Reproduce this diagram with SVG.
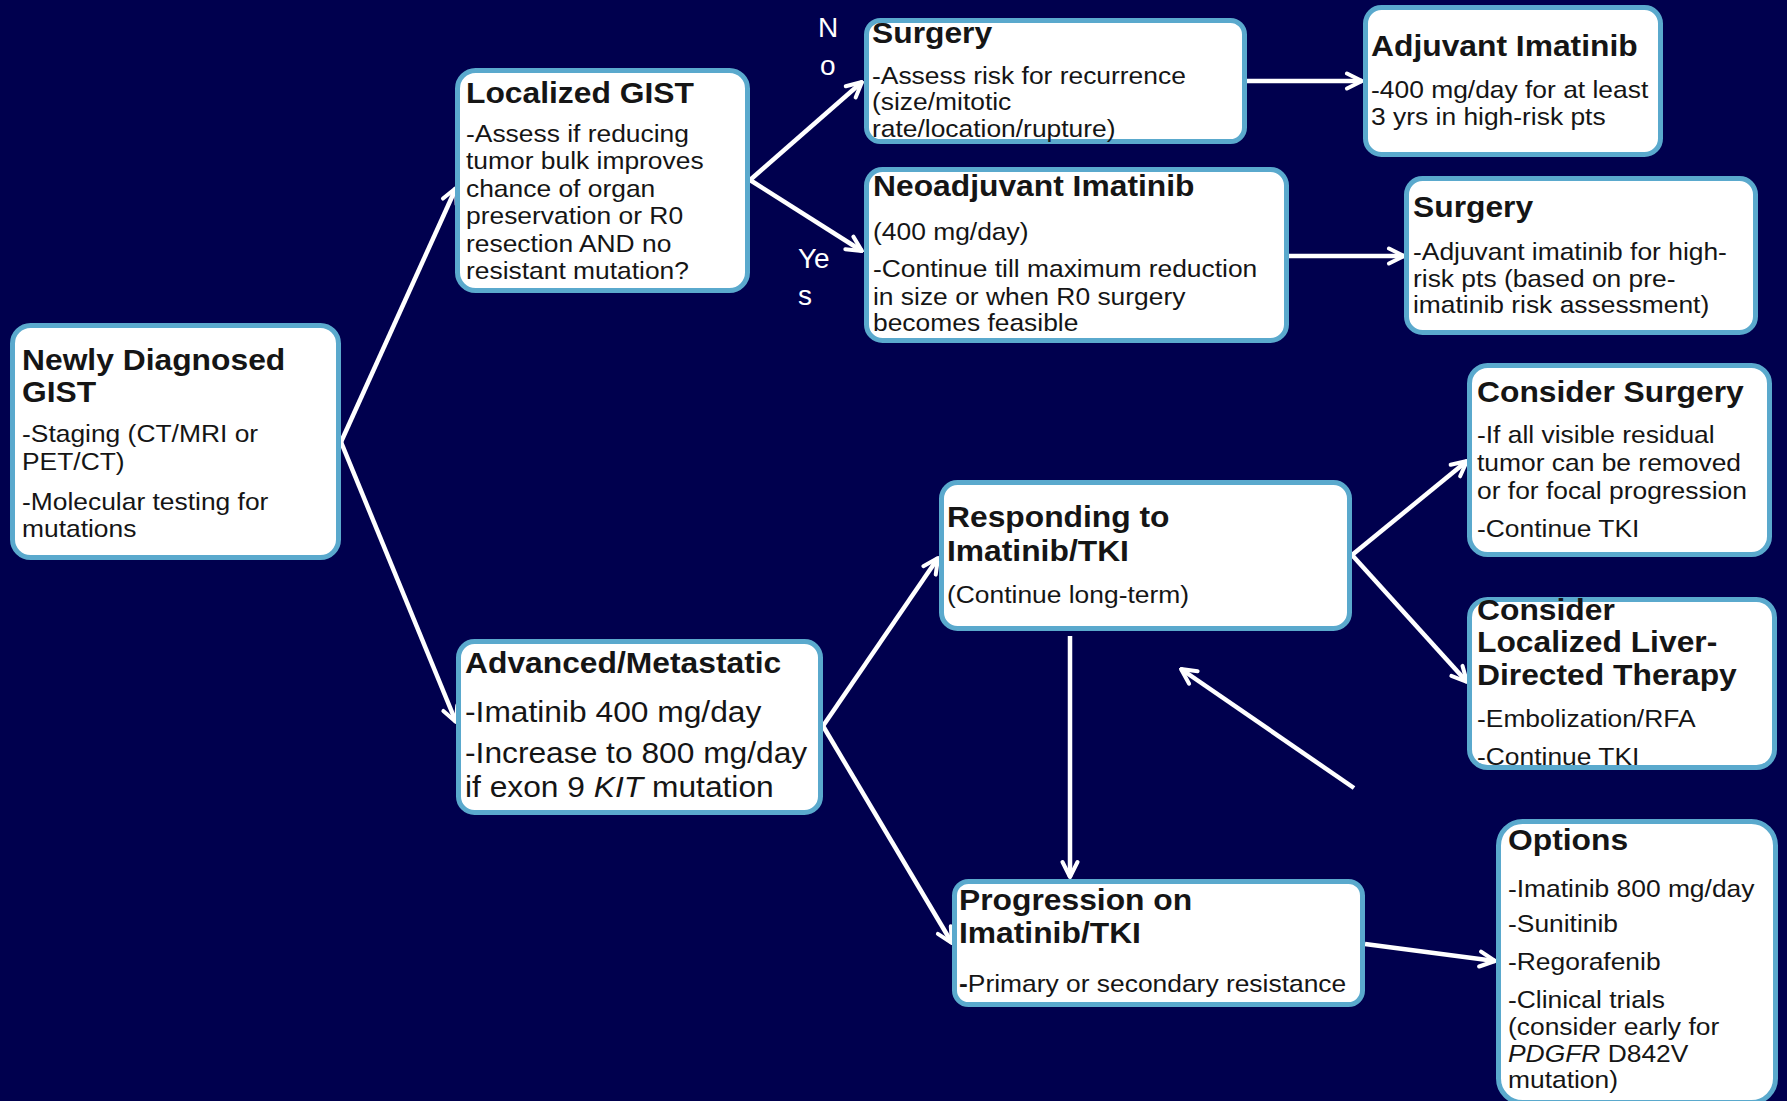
<svg xmlns="http://www.w3.org/2000/svg" width="1787" height="1101" viewBox="0 0 1787 1101">
<style>
.box{fill:#ffffff;stroke:#5aa9cd;stroke-width:5}
.t{font-family:"Liberation Sans",Arial,sans-serif;font-weight:bold;font-size:30px;fill:#151515}
.b{font-family:"Liberation Sans",Arial,sans-serif;font-size:24px;fill:#151515}
.bl{font-family:"Liberation Sans",Arial,sans-serif;font-size:29px;fill:#151515}
.yn{font-family:"Liberation Sans",Arial,sans-serif;font-size:28px;fill:#ffffff}
.c{stroke:#ffffff;stroke-width:4.5;fill:none;marker-end:url(#ah)}
</style>
<defs>
<marker id="ah" viewBox="0 0 20 20" markerWidth="20" markerHeight="20" refX="18" refY="10" orient="auto" markerUnits="userSpaceOnUse">
<path d="M3,2.5 L18,10 L3,17.5" fill="none" stroke="#ffffff" stroke-width="4" stroke-linecap="round" stroke-linejoin="round"/>
</marker>
</defs>
<rect x="0" y="0" width="1787" height="1101" fill="#00004e"/>

<g id="connectors">
<line class="c" x1="341" y1="442" x2="456" y2="188"/>
<line class="c" x1="341" y1="442" x2="456" y2="722"/>
<line class="c" x1="750" y1="180" x2="862" y2="82"/>
<line class="c" x1="750" y1="180" x2="862" y2="251"/>
<line class="c" x1="1247" y1="81" x2="1362" y2="81"/>
<line class="c" x1="1289" y1="256" x2="1404" y2="256"/>
<line class="c" x1="823" y1="726" x2="938" y2="558"/>
<line class="c" x1="823" y1="726" x2="952" y2="943"/>
<line class="c" x1="1352" y1="555" x2="1467" y2="461"/>
<line class="c" x1="1352" y1="555" x2="1467" y2="682"/>
<line class="c" x1="1070" y1="636" x2="1070" y2="877"/>
<line class="c" x1="1354" y1="788" x2="1181" y2="669"/>
<line class="c" x1="1365" y1="944" x2="1495" y2="961"/>
</g>

<g id="labels">
<text class="yn" x="818" y="37">N</text>
<text class="yn" x="820" y="75">o</text>
<text class="yn" x="798" y="268">Ye</text>
<text class="yn" x="798" y="305">s</text>
</g>

<g id="newly">
<rect class="box" x="12.5" y="325.5" width="326" height="232" rx="18"/>
<text class="t" transform="translate(22,370) scale(1.06,1)"><tspan x="0" y="0">Newly Diagnosed</tspan><tspan x="0" y="32">GIST</tspan></text>
<text class="b" transform="translate(22,442) scale(1.1,1)"><tspan x="0" y="0">-Staging (CT/MRI or</tspan><tspan x="0" y="28">PET/CT)</tspan><tspan x="0" y="68">-Molecular testing for</tspan><tspan x="0" y="95">mutations</tspan></text>
</g>

<g id="localized">
<rect class="box" x="457.5" y="70.5" width="290" height="220" rx="18"/>
<text class="t" transform="translate(466,103) scale(1.06,1)">Localized GIST</text>
<text class="b" transform="translate(466,142) scale(1.1,1)"><tspan x="0" y="0">-Assess if reducing</tspan><tspan x="0" y="27.5">tumor bulk improves</tspan><tspan x="0" y="55">chance of organ</tspan><tspan x="0" y="82.5">preservation or R0</tspan><tspan x="0" y="110">resection AND no</tspan><tspan x="0" y="137.5">resistant mutation?</tspan></text>
</g>

<g id="surgery1">
<rect class="box" x="866.5" y="20.5" width="378" height="121" rx="14"/>
<text class="t" transform="translate(872,43) scale(1.06,1)">Surgery</text>
<text class="b" transform="translate(872,84) scale(1.1,1)"><tspan x="0" y="0">-Assess risk for recurrence</tspan><tspan x="0" y="26.5">(size/mitotic</tspan><tspan x="0" y="53">rate/location/rupture)</tspan></text>
</g>

<g id="adjuvant">
<rect class="box" x="1365.5" y="7.5" width="295" height="147" rx="16"/>
<text class="t" transform="translate(1371,56) scale(1.06,1)">Adjuvant Imatinib</text>
<text class="b" transform="translate(1371,98) scale(1.1,1)"><tspan x="0" y="0">-400 mg/day for at least</tspan><tspan x="0" y="27">3 yrs in high-risk pts</tspan></text>
</g>

<g id="neoadjuvant">
<rect class="box" x="866.5" y="169.5" width="420" height="171" rx="16"/>
<text class="t" transform="translate(873,196) scale(1.06,1)">Neoadjuvant Imatinib</text>
<text class="b" transform="translate(873,240) scale(1.1,1)"><tspan x="0" y="0">(400 mg/day)</tspan><tspan x="0" y="37">-Continue till maximum reduction</tspan><tspan x="0" y="65">in size or when R0 surgery</tspan><tspan x="0" y="91">becomes feasible</tspan></text>
</g>

<g id="surgery2">
<rect class="box" x="1406.5" y="178.5" width="349" height="154" rx="16"/>
<text class="t" transform="translate(1413,217) scale(1.06,1)">Surgery</text>
<text class="b" transform="translate(1413,260) scale(1.1,1)"><tspan x="0" y="0">-Adjuvant imatinib for high-</tspan><tspan x="0" y="27">risk pts (based on pre-</tspan><tspan x="0" y="53">imatinib risk assessment)</tspan></text>
</g>

<g id="consider-surgery">
<rect class="box" x="1469.5" y="365.5" width="300" height="189" rx="18"/>
<text class="t" transform="translate(1477,402) scale(1.06,1)">Consider Surgery</text>
<text class="b" transform="translate(1477,443) scale(1.1,1)"><tspan x="0" y="0">-If all visible residual</tspan><tspan x="0" y="28">tumor can be removed</tspan><tspan x="0" y="56">or for focal progression</tspan><tspan x="0" y="94">-Continue TKI</tspan></text>
</g>

<g id="liver">
<rect class="box" x="1469.5" y="599.5" width="305" height="168" rx="18"/>
<text class="t" transform="translate(1477,620) scale(1.06,1)"><tspan x="0" y="0">Consider</tspan><tspan x="0" y="32">Localized Liver-</tspan><tspan x="0" y="65">Directed Therapy</tspan></text>
<text class="b" transform="translate(1477,727) scale(1.1,1)"><tspan x="0" y="0">-Embolization/RFA</tspan><tspan x="0" y="38">-Continue TKI</tspan></text>
</g>

<g id="advanced">
<rect class="box" x="458.5" y="641.5" width="362" height="171" rx="16"/>
<text class="t" transform="translate(465,673) scale(1.06,1)">Advanced/Metastatic</text>
<text class="bl" transform="translate(465,722) scale(1.095,1)"><tspan x="0" y="0">-Imatinib 400 mg/day</tspan><tspan x="0" y="41">-Increase to 800 mg/day</tspan><tspan x="0" y="75">if exon 9 <tspan font-style="italic">KIT</tspan> mutation</tspan></text>
</g>

<g id="responding">
<rect class="box" x="941.5" y="482.5" width="408" height="146" rx="16"/>
<text class="t" transform="translate(947,527) scale(1.06,1)"><tspan x="0" y="0">Responding to</tspan><tspan x="0" y="34">Imatinib/TKI</tspan></text>
<text class="b" transform="translate(947,603) scale(1.1,1)">(Continue long-term)</text>
</g>

<g id="progression">
<rect class="box" x="954.5" y="881.5" width="408" height="123" rx="14"/>
<text class="t" transform="translate(959,910) scale(1.06,1)"><tspan x="0" y="0">Progression on</tspan><tspan x="0" y="33">Imatinib/TKI</tspan></text>
<text class="b" transform="translate(959,992) scale(1.1,1)"><tspan font-weight="bold">-</tspan>Primary or secondary resistance</text>
</g>

<g id="options">
<rect class="box" x="1498.5" y="821.5" width="277" height="281" rx="24"/>
<text class="t" transform="translate(1508,850) scale(1.06,1)">Options</text>
<text class="b" transform="translate(1508,897) scale(1.1,1)"><tspan x="0" y="0">-Imatinib 800 mg/day</tspan><tspan x="0" y="35">-Sunitinib</tspan><tspan x="0" y="73">-Regorafenib</tspan><tspan x="0" y="111">-Clinical trials</tspan><tspan x="0" y="138">(consider early for</tspan><tspan x="0" y="165"><tspan font-style="italic">PDGFR</tspan> D842V</tspan><tspan x="0" y="191">mutation)</tspan></text>
</g>
</svg>
